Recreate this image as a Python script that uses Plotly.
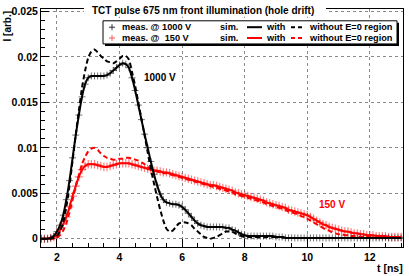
import numpy as np
import plotly.graph_objects as go

# ---------------- data ----------------
# sampling times of the pulses [ns], 1.5 ... 13.0 every 0.1 ns
t_ns = np.round(np.arange(1.5, 13.05, 0.1), 1)

meas_1000 = [
    0, 0, 0, 0.0001, 0.0003,
    0.0008, 0.0015, 0.0026, 0.0043, 0.0064, 0.0089, 0.0114, 0.0136, 0.0156, 0.0170,
    0.0177, 0.0179, 0.0179, 0.0179, 0.0179, 0.0179, 0.0180, 0.0182, 0.0185, 0.0188,
    0.0191, 0.0193, 0.0192, 0.0188, 0.0177, 0.0163, 0.0147, 0.0131, 0.0115, 0.0100,
    0.0085, 0.0071, 0.0059, 0.0049, 0.0043, 0.0040, 0.0039, 0.0038, 0.0038, 0.0037,
    0.0035, 0.0032, 0.0028, 0.0024, 0.0020, 0.0017, 0.0015, 0.0014, 0.0013, 0.0013,
    0.0013, 0.0013, 0.0013, 0.0013, 0.0012, 0.0012, 0.0010, 0.0009, 0.0007, 0.0005,
    0.0004, 0.0003, 0.0003, 0.0003, 0.0003, 0.0003, 0.0003, 0.0003, 0.0003, 0.0003,
    0.0002, 0.0002, 0.0002, 0.0001, 0.0001, 0.0001, 0.0001, 0.0001, 0.0001, 0.0001,
    0.0001, 0.0001, 0.0001, 0.0001, 0.0001, 0.0001, 0.0001, 0.0001, 0.0001, 0.0001,
    0.0001, 0.0001, 0.0001, 0.0001, 0.0001, 0.0001, 0.0001, 0.0001, 0.0001, 0.0001,
    0.0001, 0.0001, 0.0001, 0.0001, 0.0001, 0.0001, 0.0001, 0.0001, 0.0001, 0.0001,
    0.0001,
]

sim_with_1000 = [
    0, 0, 0, 0.0001, 0.0003,
    0.0008, 0.0015, 0.0026, 0.0043, 0.0064, 0.0089, 0.0114, 0.0136, 0.0156, 0.0170,
    0.0177, 0.0179, 0.0179, 0.0179, 0.0179, 0.0179, 0.0180, 0.0182, 0.0185, 0.0188,
    0.0191, 0.0193, 0.0192, 0.0188, 0.0177, 0.0163, 0.0147, 0.0131, 0.0115, 0.0100,
    0.0085, 0.0071, 0.0059, 0.0049, 0.0043, 0.0040, 0.0039, 0.0038, 0.0038, 0.0037,
    0.0035, 0.0032, 0.0028, 0.0024, 0.0020, 0.0017, 0.0015, 0.0014, 0.0013, 0.0013,
    0.0013, 0.0013, 0.0013, 0.0013, 0.0012, 0.0012, 0.0010, 0.0009, 0.0007, 0.0005,
    0.0004, 0.0003, 0.0003, 0.0003, 0.0003, 0.0003, 0.0003, 0.0003, 0.0003, 0.0003,
    0.0002, 0.0002, 0.0002, 0.0001, 0.0001, 0.0001, 0.0001, 0.0001, 0.0001, 0.0001,
    0.0001, 0.0001, 0.0001, 0.0001, 0.0001, 0.0001, 0.0001, 0.0001, 0.0001, 0.0001,
    0.0001, 0.0001, 0.0001, 0.0001, 0.0001, 0.0001, 0.0001, 0.0001, 0.0001, 0.0001,
    0.0001, 0.0001, 0.0001, 0.0001, 0.0001, 0.0001, 0.0001, 0.0001, 0.0001, 0.0001,
    0.0001,
]

sim_without_1000 = [
    0, 0, 0, 0, 0.0001,
    0.0003, 0.0008, 0.0018, 0.0035, 0.0058, 0.0086, 0.0114, 0.0141, 0.0166, 0.0185,
    0.0199, 0.0206, 0.0208, 0.0205, 0.0201, 0.0198, 0.0195, 0.0194, 0.0193, 0.0195,
    0.0198, 0.0201, 0.0201, 0.0197, 0.0183, 0.0168, 0.0150, 0.0132, 0.0114, 0.0095,
    0.0077, 0.0061, 0.0046, 0.0032, 0.0020, 0.0011, 0.0008, 0.0009, 0.0013, 0.0017,
    0.0018, 0.0018, 0.0017, 0.0015, 0.0011, 0.0008, 0.0005, 0.0002, 0.0001, 0.0000,
    0.0001, 0.0002, 0.0004, 0.0006, 0.0008, 0.0008, 0.0008, 0.0006, 0.0004, 0.0003,
    0.0002, 0.0002, 0.0002, 0.0002, 0.0002, 0.0002, 0.0002, 0.0002, 0.0002, 0.0002,
    0.0002, 0.0002, 0.0002, 0.0001, 0.0001, 0.0001, 0.0001, 0.0001, 0.0001, 0.0001,
    0.0001, 0.0001, 0.0001, 0.0001, 0.0001, 0.0001, 0.0001, 0.0001, 0.0001, 0.0001,
    0.0001, 0.0001, 0.0001, 0.0001, 0.0001, 0.0001, 0.0001, 0.0001, 0.0001, 0.0001,
    0.0001, 0.0001, 0.0001, 0.0001, 0.0001, 0.0001, 0.0001, 0.0001, 0.0001, 0.0001,
    0.0001,
]

meas_150 = [
    0, 0, 0, 0.0001, 0.0002,
    0.0004, 0.0010, 0.0016, 0.0024, 0.0035, 0.0047, 0.0058, 0.0068, 0.0076, 0.0080,
    0.0082, 0.0082, 0.0082, 0.0081, 0.0080, 0.0079, 0.0079, 0.0080, 0.0081, 0.0082,
    0.0083, 0.0083, 0.0083, 0.0083, 0.0082, 0.0081, 0.0080, 0.0079, 0.0078, 0.0077,
    0.0076, 0.0075, 0.0075, 0.0074, 0.0073, 0.0073, 0.0072, 0.0071, 0.0070, 0.0069,
    0.0068, 0.0067, 0.0066, 0.0065, 0.0064, 0.0063, 0.0062, 0.0061, 0.0060, 0.0059,
    0.0059, 0.0058, 0.0057, 0.0056, 0.0055, 0.0054, 0.0053, 0.0051, 0.0050, 0.0049,
    0.0048, 0.0047, 0.0046, 0.0045, 0.0044, 0.0043, 0.0042, 0.0040, 0.0039, 0.0038,
    0.0037, 0.0036, 0.0035, 0.0034, 0.0032, 0.0031, 0.0030, 0.0029, 0.0028, 0.0027,
    0.0026, 0.0024, 0.0022, 0.0020, 0.0018, 0.0016, 0.0015, 0.0013, 0.0012, 0.0011,
    0.0010, 0.0009, 0.0008, 0.0008, 0.0007, 0.0006, 0.0006, 0.0005, 0.0005, 0.0004,
    0.0004, 0.0004, 0.0003, 0.0003, 0.0003, 0.0003, 0.0002, 0.0002, 0.0002, 0.0002,
    0.0002,
]

sim_with_150 = [
    0, 0, 0, 0.0001, 0.0002,
    0.0004, 0.0010, 0.0016, 0.0024, 0.0035, 0.0047, 0.0058, 0.0068, 0.0076, 0.0080,
    0.0082, 0.0082, 0.0082, 0.0081, 0.0080, 0.0079, 0.0079, 0.0080, 0.0081, 0.0082,
    0.0083, 0.0083, 0.0083, 0.0083, 0.0082, 0.0081, 0.0080, 0.0079, 0.0078, 0.0077,
    0.0076, 0.0075, 0.0075, 0.0074, 0.0073, 0.0073, 0.0072, 0.0071, 0.0070, 0.0069,
    0.0068, 0.0067, 0.0066, 0.0065, 0.0064, 0.0063, 0.0062, 0.0061, 0.0060, 0.0059,
    0.0059, 0.0058, 0.0057, 0.0056, 0.0055, 0.0054, 0.0053, 0.0051, 0.0050, 0.0049,
    0.0048, 0.0047, 0.0046, 0.0045, 0.0044, 0.0043, 0.0042, 0.0040, 0.0039, 0.0038,
    0.0037, 0.0036, 0.0035, 0.0034, 0.0032, 0.0031, 0.0030, 0.0029, 0.0028, 0.0027,
    0.0026, 0.0024, 0.0022, 0.0020, 0.0018, 0.0016, 0.0015, 0.0013, 0.0012, 0.0011,
    0.0010, 0.0009, 0.0008, 0.0008, 0.0007, 0.0006, 0.0006, 0.0005, 0.0005, 0.0004,
    0.0004, 0.0004, 0.0003, 0.0003, 0.0003, 0.0003, 0.0002, 0.0002, 0.0002, 0.0002,
    0.0002,
]

sim_without_150 = [
    0, 0, 0, 0, 0,
    0.0001, 0.0004, 0.0009, 0.0017, 0.0029, 0.0043, 0.0057, 0.0070, 0.0082, 0.0090,
    0.0096, 0.0099, 0.0100, 0.0098, 0.0094, 0.0091, 0.0089, 0.0088, 0.0087, 0.0087,
    0.0088, 0.0088, 0.0089, 0.0089, 0.0088, 0.0087, 0.0086, 0.0084, 0.0082, 0.0079,
    0.0077, 0.0075, 0.0074, 0.0073, 0.0072, 0.0072, 0.0071, 0.0070, 0.0069, 0.0068,
    0.0067, 0.0066, 0.0065, 0.0064, 0.0063, 0.0062, 0.0061, 0.0060, 0.0059, 0.0058,
    0.0057, 0.0056, 0.0055, 0.0054, 0.0053, 0.0052, 0.0051, 0.0049, 0.0048, 0.0047,
    0.0046, 0.0045, 0.0044, 0.0043, 0.0042, 0.0041, 0.0040, 0.0038, 0.0037, 0.0036,
    0.0035, 0.0034, 0.0033, 0.0032, 0.0030, 0.0029, 0.0028, 0.0027, 0.0025, 0.0024,
    0.0022, 0.0020, 0.0018, 0.0016, 0.0014, 0.0012, 0.0010, 0.0009, 0.0007, 0.0006,
    0.0005, 0.0005, 0.0004, 0.0004, 0.0003, 0.0003, 0.0003, 0.0002, 0.0002, 0.0002,
    0.0002, 0.0001, 0.0001, 0.0001, 0.0001, 0.0001, 0.0001, 0.0001, 0.0001, 0.0001,
    0.0001,
]

title_text = "TCT pulse 675 nm front illumination (hole drift)"
legend_meas = ["meas. @ 1000 V", "meas. @\u00a0\u00a0150 V"]
legend_sim = "sim."
legend_with = "with"
legend_without = "without E=0 region"
curve_labels = ["1000 V", "150 V"]
x_title = "t [ns]"
y_title = "I [arb.]"

# ---------------- styling ----------------
W, H = 409, 276
ML, MR, MT, MB = 41, 6, 5, 29
PW = W - ML - MR
PH = H - MT - MB
FONT = "Liberation Sans, Arial, Helvetica, sans-serif"
RED = "#ff0000"
BLACK = "#000000"
DASH = "5px,3px"


def px(x):
    return (x - ML) / PW


def py(y):
    return (H - MB - y) / PH


fig = go.Figure()

fig.add_trace(go.Scatter(
    x=t_ns, y=meas_150, mode="markers",
    marker=dict(symbol="cross-thin", size=6, color="rgba(255,0,0,0.5)",
                line=dict(width=1.2, color="rgba(255,0,0,0.5)")),
    showlegend=False, hoverinfo="skip"))
fig.add_trace(go.Scatter(
    x=t_ns, y=meas_1000, mode="markers",
    marker=dict(symbol="cross-thin", size=5, color="rgba(0,0,0,0.55)",
                line=dict(width=1, color="rgba(0,0,0,0.55)")),
    showlegend=False, hoverinfo="skip"))
fig.add_trace(go.Scatter(
    x=t_ns, y=sim_without_150, mode="lines",
    line=dict(color=RED, width=2, dash=DASH, shape="spline", smoothing=0.6),
    showlegend=False, hoverinfo="skip"))
fig.add_trace(go.Scatter(
    x=t_ns, y=sim_with_150, mode="lines",
    line=dict(color=RED, width=2, shape="spline", smoothing=0.6),
    showlegend=False, hoverinfo="skip"))
fig.add_trace(go.Scatter(
    x=t_ns, y=sim_without_1000, mode="lines",
    line=dict(color=BLACK, width=2, dash=DASH, shape="spline", smoothing=0.6),
    showlegend=False, hoverinfo="skip"))
fig.add_trace(go.Scatter(
    x=t_ns, y=sim_with_1000, mode="lines",
    line=dict(color=BLACK, width=2, shape="spline", smoothing=0.6),
    showlegend=False, hoverinfo="skip"))

axis_common = dict(
    showline=True, linecolor=BLACK, linewidth=1, mirror=True,
    ticks="inside", ticklen=8, tickcolor=BLACK, tickwidth=1,
    showgrid=True, gridcolor="#8a8a8a", griddash="dot", gridwidth=1,
    zeroline=False,
    tickfont=dict(family=FONT, size=10.5, color=BLACK, weight="bold"),
)

fig.update_xaxes(range=[1.49, 13.06], tickmode="linear", tick0=0, dtick=2,
                 minor=dict(dtick=0.5, tick0=0, ticks="inside", ticklen=4,
                            tickcolor=BLACK, showgrid=False),
                 **axis_common)
fig.update_yaxes(range=[-0.0009, 0.02526], tickmode="linear", tick0=0, dtick=0.005,
                 minor=dict(dtick=0.001, tick0=0, ticks="inside", ticklen=4,
                            tickcolor=BLACK, showgrid=False),
                 **axis_common)

shapes = []
annotations = []

# white title pad covering the frame top (drawn above axis lines)
shapes.append(dict(type="rect", xref="paper", yref="paper",
                   x0=px(84), x1=px(326), y0=py(13), y1=py(0),
                   fillcolor="white", line=dict(width=0), layer="above"))

# legend box with shadow
shapes.append(dict(type="rect", xref="paper", yref="paper",
                   x0=px(105), x1=px(399), y0=py(42.5), y1=py(19),
                   fillcolor=BLACK, line=dict(width=0), layer="above"))
shapes.append(dict(type="rect", xref="paper", yref="paper",
                   x0=px(103), x1=px(397), y0=py(40.5), y1=py(17),
                   fillcolor="white", line=dict(width=1, color=BLACK), layer="above"))

rows = [(23.5, BLACK, "rgba(0,0,0,0.8)"), (34.5, RED, "rgba(255,60,60,0.85)")]
for i, (ry, col, mcol) in enumerate(rows):
    # marker "+"
    shapes.append(dict(type="line", xref="paper", yref="paper",
                       x0=px(109), x1=px(115), y0=py(ry), y1=py(ry),
                       line=dict(color=mcol, width=1), layer="above"))
    shapes.append(dict(type="line", xref="paper", yref="paper",
                       x0=px(112), x1=px(112), y0=py(ry - 3), y1=py(ry + 3),
                       line=dict(color=mcol, width=1), layer="above"))
    # solid line
    shapes.append(dict(type="line", xref="paper", yref="paper",
                       x0=px(247), x1=px(262), y0=py(ry), y1=py(ry),
                       line=dict(color=col, width=2), layer="above"))
    # dashed line
    shapes.append(dict(type="line", xref="paper", yref="paper",
                       x0=px(291), x1=px(304), y0=py(ry), y1=py(ry),
                       line=dict(color=col, width=2, dash="4px,3px"), layer="above"))
    for xx, txt in [(120, legend_meas[i]), (218, legend_sim), (264, legend_with),
                    (307, legend_without)]:
        annotations.append(dict(xref="paper", yref="paper", x=px(xx), y=py(ry),
                                xanchor="left", yanchor="middle", showarrow=False,
                                text=txt,
                                font=dict(family=FONT, size=9.2, color=BLACK, weight="bold")))

# title
annotations.append(dict(xref="paper", yref="paper", x=px(202.5), y=py(6.5),
                        xanchor="center", yanchor="middle", showarrow=False,
                        text=title_text,
                        font=dict(family=FONT, size=10, color=BLACK, weight="bold")))

# axis titles
annotations.append(dict(xref="paper", yref="paper", x=px(7), y=py(5),
                        xanchor="center", yanchor="top", showarrow=False,
                        text=y_title, textangle=-90,
                        font=dict(family=FONT, size=10, color=BLACK, weight="bold")))
annotations.append(dict(xref="paper", yref="paper", x=px(405), y=py(268),
                        xanchor="right", yanchor="middle", showarrow=False,
                        text=x_title,
                        font=dict(family=FONT, size=10.5, color=BLACK, weight="bold")))

# curve labels
annotations.append(dict(x=4.72, y=0.0177, xanchor="left", yanchor="middle",
                        showarrow=False, text=curve_labels[0],
                        font=dict(family=FONT, size=10, color=BLACK, weight="bold")))
annotations.append(dict(x=10.30, y=0.00376, xanchor="left", yanchor="middle",
                        showarrow=False, text=curve_labels[1],
                        font=dict(family=FONT, size=10, color=RED, weight="bold")))

fig.update_layout(
    width=W, height=H,
    margin=dict(l=ML, r=MR, t=MT, b=MB, pad=0),
    paper_bgcolor="white", plot_bgcolor="white",
    showlegend=False, hovermode=False,
    shapes=shapes, annotations=annotations,
    font=dict(family=FONT, color=BLACK),
)

fig.write_html("out.html",
               config={"displayModeBar": False, "staticPlot": True},
               post_script="document.body.style.margin='0px';"
                           "document.body.style.overflow='hidden';")
